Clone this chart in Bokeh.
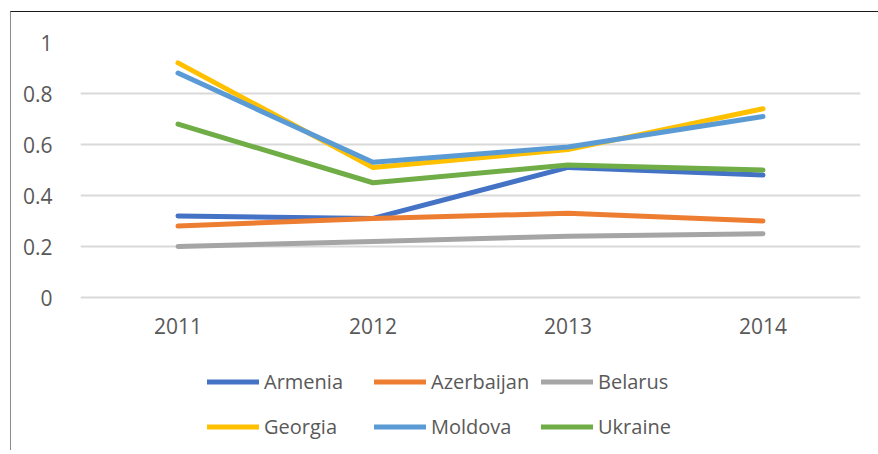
from bokeh.plotting import figure
from bokeh.models import Legend, LegendItem, FixedTicker, FactorRange, Range1d
from bokeh.embed import file_html
from bokeh.resources import INLINE

years = ["2011", "2012", "2013", "2014"]
armenia = [0.32, 0.31, 0.51, 0.48]
azerbaijan = [0.28, 0.31, 0.33, 0.30]
belarus = [0.20, 0.22, 0.24, 0.25]
georgia = [0.92, 0.51, 0.58, 0.74]
moldova = [0.88, 0.53, 0.59, 0.71]
ukraine = [0.68, 0.45, 0.52, 0.50]

y_ticks = [0, 0.2, 0.4, 0.6, 0.8, 1.0]
y_tick_labels = ["0", "0.2", "0.4", "0.6", "0.8", "1"]

series = [
    ("Armenia", armenia, "#4472C4"),
    ("Azerbaijan", azerbaijan, "#ED7D31"),
    ("Belarus", belarus, "#A5A5A5"),
    ("Georgia", georgia, "#FFC000"),
    ("Moldova", moldova, "#5B9BD5"),
    ("Ukraine", ukraine, "#70AD47"),
]

FONT = "Open Sans"
TXT = "#595959"

# frame extends below 0 to hold the x labels and the legend (1 unit = 255 px)
p = figure(frame_width=780, frame_height=408, x_range=FactorRange(*years), y_range=Range1d(-0.6, 1),
           output_backend="svg", toolbar_location=None,
           min_border_left=69, min_border_right=18, min_border_top=30, min_border_bottom=0)
p.styles = {"margin-left": "10px", "margin-top": "11px",
            "border-top": "1px solid #1a1a1a", "border-left": "1px solid #8c8c8c"}
p.outline_line_color = None
p.background_fill_color = "white"
p.border_fill_color = "white"

p.xgrid.grid_line_color = None
p.ygrid.grid_line_color = "#d9d9d9"
p.ygrid.grid_line_width = 2
p.yaxis.ticker = FixedTicker(ticks=y_ticks)
p.yaxis.major_label_overrides = {t: l for t, l in zip(y_ticks, y_tick_labels)}

for ax in (p.xaxis[0], p.yaxis[0]):
    ax.axis_line_color = None
    ax.major_tick_line_color = None
    ax.minor_tick_line_color = None
    ax.major_label_text_font = FONT
    ax.major_label_text_font_size = "21px"
    ax.major_label_text_color = TXT
p.yaxis.major_label_standoff = 22
p.xaxis.major_label_standoff = 14
p.xaxis.fixed_location = 0

items = []
for name, vals, col in series:
    r = p.line(years, vals, line_color=col, line_width=5, line_cap="round", line_join="round")
    items.append(LegendItem(label=name, renderers=[r]))

legend = Legend(items=items, location=(127, 1), orientation="horizontal", ncols=3,
                glyph_width=52, glyph_height=45, label_standoff=5, label_width=110,
                label_height=45, spacing=0, padding=0, margin=0,
                label_text_font=FONT, label_text_font_size="20px", label_text_color=TXT,
                background_fill_alpha=0, border_line_color=None)
p.add_layout(legend, "center")

open("out.html", "w").write(file_html(p, INLINE))
